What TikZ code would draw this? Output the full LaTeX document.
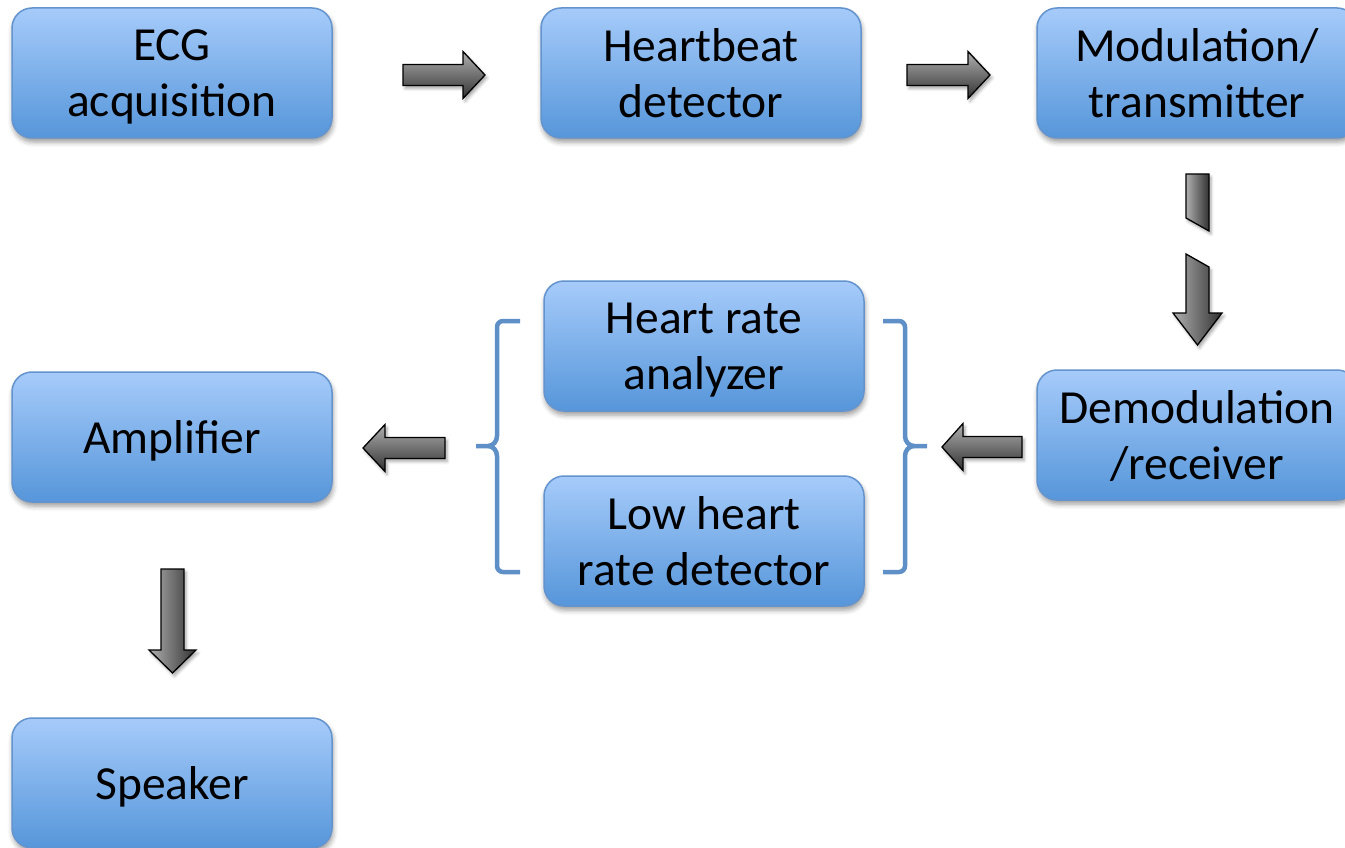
\documentclass[tikz,border=0pt]{standalone}
\usepackage{fontspec}
\setmainfont{Carlito}
\usetikzlibrary{shadows.blur,calc}
\definecolor{boxtop}{RGB}{166,203,250}
\definecolor{boxbot}{RGB}{86,150,218}
\definecolor{boxline}{RGB}{100,148,205}
\definecolor{bracecol}{RGB}{95,143,199}
\definecolor{arrlight}{RGB}{175,175,175}
\definecolor{arrdark}{RGB}{50,50,50}
\tikzset{
  block/.style={rounded corners=20pt, minimum width=320pt, minimum height=130pt,
    inner sep=0pt, top color=boxtop, bottom color=boxbot, draw=boxline,
    line width=1.5pt, align=center, font=\fontsize{47.5}{56}\selectfont,
    text depth=0pt,
    blur shadow={shadow xshift=1pt, shadow yshift=-4pt, shadow blur radius=5pt, shadow opacity=40}},
  harrow/.style={draw=black, line width=1.3pt, line join=miter,
    top color=arrlight, bottom color=arrdark,
    blur shadow={shadow xshift=2pt, shadow yshift=-3pt, shadow blur radius=3pt, shadow opacity=35}},
  varrow/.style={draw=black, line width=1.3pt, line join=miter,
    left color=arrlight, right color=arrdark,
    blur shadow={shadow xshift=2pt, shadow yshift=-3pt, shadow blur radius=3pt, shadow opacity=35}},
  bracket/.style={draw=bracecol, line width=4.5pt, line join=round}
}
% horizontal block arrow: #1 tail, #2 direction (1 or -1), #3 length, #4 head length
\newcommand\blkArrowH[4]{%
  \begin{scope}[shift={(#1)}]
    \draw[harrow] (0,-10.5) -- ({#2*(#3-#4)},-10.5) -- ({#2*(#3-#4)},-23.5) -- ({#2*#3},0)
      -- ({#2*(#3-#4)},23.5) -- ({#2*(#3-#4)},10.5) -- (0,10.5) -- cycle;
  \end{scope}}
% vertical (downward) block arrow: #1 tail, #2 length, #3 head length, #4 head half width
\newcommand\blkArrowV[4]{%
  \begin{scope}[shift={(#1)}]
    \draw[varrow] (-11.5,0) -- (-11.5,{#2-#3}) -- (-#4,{#2-#3}) -- (0,#2)
      -- (#4,{#2-#3}) -- (11.5,{#2-#3}) -- (11.5,0) -- cycle;
  \end{scope}}
\begin{document}
\begin{tikzpicture}[x=1pt,y=-1pt]
\useasboundingbox (0,0) rectangle (1345,848);
\clip (0,0) rectangle (1345,848);

% boxes
\node[block] (acq) at (172,73) {ECG\\acquisition};
\node[block] (hb)  at (701,73) {Heartbeat\\detector};
\node[block] (mod) at (1197,73) {Modulation/\\transmitter};
\node[block] (dem) at (1197,435) {Demodulation\\/receiver};
\node[block] (hra) at (704,346) {Heart rate\\analyzer};
\node[block] (lhr) at (704,541) {Low heart\\rate detector};
\node[block] (amp) at (172,437) {Amplifier};
\node[block] (spk) at (172,783) {Speaker};

% arrow anchor coordinates
\coordinate (a1) at (403,75);
\coordinate (a2) at (907,75);
\coordinate (a3) at (1022,447);
\coordinate (a4) at (445,448);
\coordinate (a5) at (172.5,569);

\blkArrowH{a1}{1}{82}{22}
\blkArrowH{a2}{1}{83}{22}
\blkArrowH{a3}{-1}{80}{21}
\blkArrowH{a4}{-1}{82}{22}
\blkArrowV{a5}{104}{23}{23.5}

% broken down arrow between transmitter and receiver
\draw[varrow] (1186,174) -- (1209,174) -- (1209,231) -- (1186,218) -- cycle;
\draw[varrow] (1186,254) -- (1209,267) -- (1209,313) -- (1222,313) -- (1197.5,345)
  -- (1173,313) -- (1186,313) -- cycle;

% brackets
\draw[bracket] (520,321) -- (503,321) to[out=180,in=90] (497,327) -- (497,436)
  to[out=-90,in=0] (488,446) -- (476,446);
\draw[bracket] (488,446) to[out=0,in=90] (497,456) -- (497,566)
  to[out=-90,in=180] (503,572) -- (520,572);
\draw[bracket] (883,321) -- (899,321) to[out=0,in=90] (905,327) -- (905,436)
  to[out=-90,in=180] (914,446) -- (927,446);
\draw[bracket] (914,446) to[out=180,in=90] (905,456) -- (905,566)
  to[out=-90,in=0] (899,572) -- (883,572);
\end{tikzpicture}
\end{document}
